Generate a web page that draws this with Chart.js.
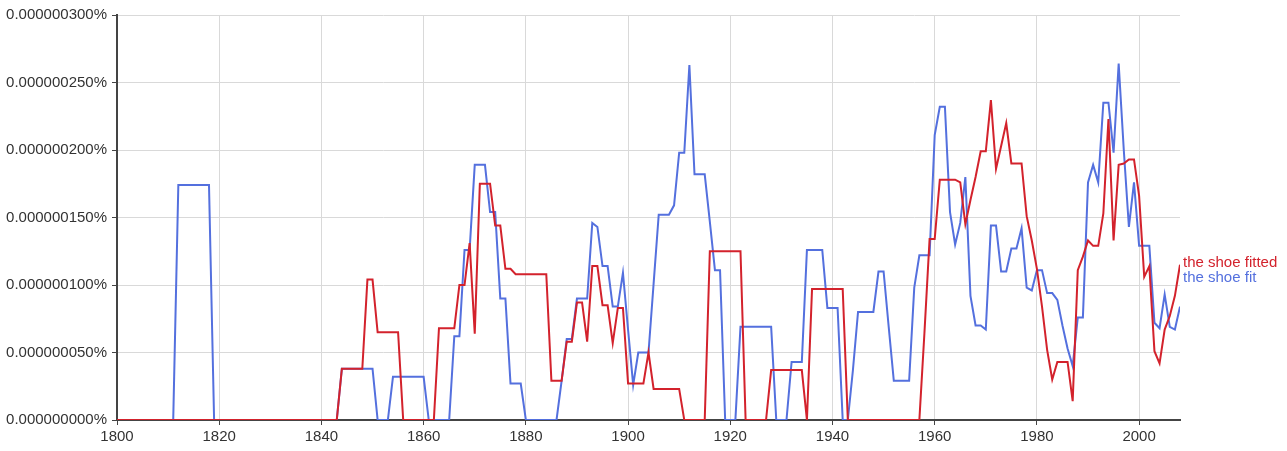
<!DOCTYPE html>
<html>
<head>
<meta charset="utf-8">
<script src="https://cdn.jsdelivr.net/npm/chart.js@4/dist/chart.umd.min.js"></script>
<style>
  body { margin: 0; background: #fff; }
  #grafica { display: block; }
</style>
</head>
<body>
<canvas id="grafica" width="1287" height="451"></canvas>
<script>
const firstYear = 1800;
const lastYear = 2008;

// values in units of 0.000000001%, one per year from 1800 to 2008
const shoeFit = [
  0,0,0,0,0,0,0,0,0,0,
  0,0,174,174,174,174,174,174,174,0,
  0,0,0,0,0,0,0,0,0,0,
  0,0,0,0,0,0,0,0,0,0,
  0,0,0,0,38,38,38,38,38,38,
  38,0,0,0,32,32,32,32,32,32,
  32,0,0,0,0,0,62,62,126,126,
  189,189,189,154,154,90,90,27,27,27,
  0,0,0,0,0,0,0,29,60,60,
  90,90,90,146,143,114,114,84,84,109,
  67,26,50,50,50,101,152,152,152,159,
  198,198,263,182,182,182,147,111,111,0,
  0,0,69,69,69,69,69,69,69,0,
  0,0,43,43,43,126,126,126,126,83,
  83,83,0,0,37,80,80,80,80,110,
  110,69,29,29,29,29,98,122,122,122,
  211,232,232,154,130,146,180,92,70,70,
  67,144,144,110,110,127,127,142,98,96,
  111,111,94,94,89,70,53,40,76,76,
  176,189,176,235,235,198,264,200,143,176,
  129,129,129,72,68,93,69,67,84
];

const shoeFitted = [
  0,0,0,0,0,0,0,0,0,0,
  0,0,0,0,0,0,0,0,0,0,
  0,0,0,0,0,0,0,0,0,0,
  0,0,0,0,0,0,0,0,0,0,
  0,0,0,0,38,38,38,38,38,104,
  104,65,65,65,65,65,0,0,0,0,
  0,0,0,68,68,68,68,100,100,131,
  64,175,175,175,144,144,112,112,108,108,
  108,108,108,108,108,29,29,29,58,58,
  87,87,58,114,114,85,85,57,83,83,
  27,27,27,27,50,23,23,23,23,23,
  23,0,0,0,0,0,125,125,125,125,
  125,125,125,0,0,0,0,0,37,37,
  37,37,37,37,37,0,97,97,97,97,
  97,97,97,0,0,0,0,0,0,0,
  0,0,0,0,0,0,0,0,65,134,
  134,178,178,178,178,176,145,163,180,199,
  199,237,186,203,220,190,190,190,151,133,
  112,84,52,30,43,43,43,14,111,121,
  133,129,129,153,223,133,189,190,193,193,
  166,106,114,51,42,67,77,92,115
];

const seriesNames = ["the shoe fitted", "the shoe fit"];
const seriesColors = ["#d3222c", "#5470de"];
const xTicks = [1800, 1820, 1840, 1860, 1880, 1900, 1920, 1940, 1960, 1980, 2000];
const yTicks = [0, 50, 100, 150, 200, 250, 300];

const toPoints = (arr) => arr.map((v, i) => ({ x: firstYear + i, y: v }));

// names written at the right end of each line
const endLabels = {
    id: 'endLabels',
    afterDatasetsDraw(chart) {
        const { ctx, chartArea, scales } = chart;
        const yRed = scales.y.getPixelForValue(shoeFitted[shoeFitted.length - 1]) - 2;
        ctx.save();
        ctx.font = '15px "Liberation Sans", Arial, sans-serif';
        ctx.textBaseline = 'middle';
        ctx.textAlign = 'left';
        ctx.fillStyle = seriesColors[0];
        ctx.fillText(seriesNames[0], chartArea.right + 3, yRed);
        ctx.fillStyle = seriesColors[1];
        ctx.fillText(seriesNames[1], chartArea.right + 3, yRed + 15);
        ctx.restore();
    }
};

const font = { family: '"Liberation Sans", Arial, sans-serif', size: 15 };

new Chart(document.getElementById('grafica'), {
    type: 'line',
    data: {
        datasets: [{
            label: seriesNames[0],
            data: toPoints(shoeFitted),
            borderColor: seriesColors[0],
            borderWidth: 2,
            pointRadius: 0,
            tension: 0
        }, {
            label: seriesNames[1],
            data: toPoints(shoeFit),
            borderColor: seriesColors[1],
            borderWidth: 2,
            pointRadius: 0,
            tension: 0
        }]
    },
    options: {
        responsive: false,
        animation: false,
        devicePixelRatio: 1,
        layout: { padding: { left: 0, right: 107, top: 15, bottom: 0 } },
        plugins: { legend: { display: false }, tooltip: { enabled: false } },
        scales: {
            x: {
                type: 'linear',
                min: firstYear,
                max: lastYear,
                afterBuildTicks: (s) => { s.ticks = xTicks.map(v => ({ value: v })); },
                afterFit: (s) => { s.height = 31; },
                ticks: { color: '#333', font: font, padding: 3, maxRotation: 0, autoSkip: false,
                         callback: (v) => String(v) },
                grid: { color: '#d9d9d9', tickColor: '#444', tickLength: 5, lineWidth: 1 },
                border: { color: '#444', width: 2 }
            },
            y: {
                min: 0,
                max: 300,
                afterBuildTicks: (s) => { s.ticks = yTicks.map(v => ({ value: v })); },
                afterFit: (s) => { s.width = 117; },
                ticks: { color: '#333', font: font, padding: 5,
                         callback: (v) => (v * 1e-9).toFixed(9) + '%' },
                grid: { color: '#d9d9d9', tickColor: '#444', tickLength: 5, lineWidth: 1 },
                border: { color: '#444', width: 2 }
            }
        }
    },
    plugins: [endLabels]
});
</script>
</body>
</html>
